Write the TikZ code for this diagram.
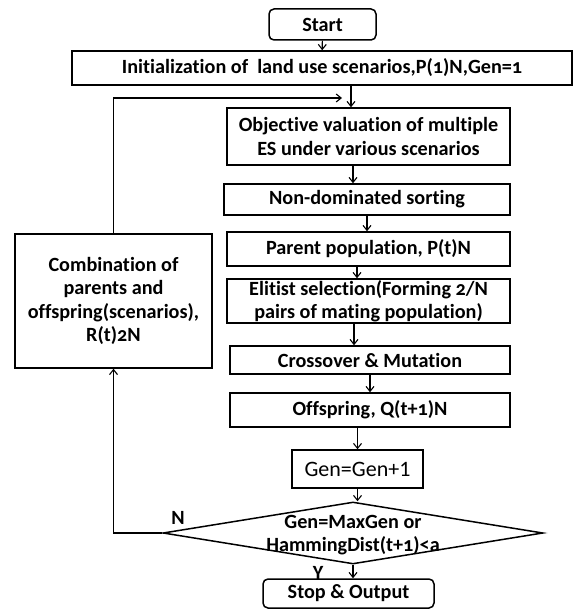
\documentclass[tikz,border=0pt]{standalone}
\usepackage{fontspec}
\setmainfont{Carlito}[Numbers=OldStyle,Ligatures=NoCommon]
\usetikzlibrary{shapes.geometric,arrows.meta}
\tikzstyle{stepNode}=[draw,line width=1.5pt,inner sep=0pt,align=center,font=\fontsize{20.2}{23.5}\selectfont\bfseries]
\tikzstyle{termNode}=[stepNode,rounded corners=5pt]
\tikzstyle{decision}=[draw,line width=1.5pt,diamond,inner sep=0pt,minimum width=380pt,minimum height=62pt]
\tikzstyle{plainText}=[inner sep=0pt,align=center,font=\fontsize{20.2}{23.5}\selectfont\bfseries]
\tikzstyle{transition}=[-{Straight Barb[length=5pt,width=8pt]}, line width=1.1pt]

\begin{document}
\begin{tikzpicture}[x=1pt,y=-1pt]

    \useasboundingbox (0,0) rectangle (573,609);

    \node[termNode,minimum width=107pt,minimum height=31pt] (start) at (322.5, 24.5) {Start};
    \node[stepNode,minimum width=500pt,minimum height=34pt] (init) at (322, 68) {Initialization of~~land use scenarios,P(1)N,Gen=1};
    \node[stepNode,minimum width=283pt,minimum height=57pt] (obj) at (368.5, 136.5) {Objective valuation of multiple\\ES under various scenarios};
    \node[stepNode,minimum width=286pt,minimum height=31pt] (nds) at (367, 199.5) {Non-dominated sorting};
    \node[stepNode,minimum width=283pt,minimum height=34pt] (parent) at (368.5, 249) {Parent population, P(t)N};
    \node[stepNode,minimum width=283pt,minimum height=44pt] (elitist) at (368.5, 301) {Elitist selection(Forming 2/N\\pairs of mating population)};
    \node[stepNode,minimum width=280pt,minimum height=28pt] (cross) at (370, 360) {Crossover \& Mutation};
    \node[stepNode,minimum width=280pt,minimum height=34pt] (offspring) at (370, 410) {Offspring, Q(t+1)N};
    \node[stepNode,minimum width=131pt,minimum height=38pt,font=\fontsize{22}{26}\selectfont\addfontfeatures{Numbers=Lining}] (gen) at (357.5, 469) {Gen=Gen+1};
    \node[decision] (dec) at (353, 533) {};
    \node[plainText] (decText) at (353, 535) {Gen=MaxGen or\\HammingDist(t+1)<a};
    \node[termNode,minimum width=171pt,minimum height=29pt] (stop) at (348.5, 593.5) {Stop \& Output};
    \node[stepNode,minimum width=197pt,minimum height=134pt] (comb) at (113.5, 301) {Combination of\\parents and\\offspring(scenarios),\\R(t)2N};
    \node[plainText] (no) at (178, 518) {N};
    \node[plainText] (yes) at (318, 573) {Y};
    \coordinate (back) at (342, 98);

    \draw[transition] (start) -- (init);
    \draw[transition] ([xshift=-17.5pt]obj.north |- init.south) -- ([xshift=-17.5pt]obj.north);
    \draw[transition] ([xshift=-15.5pt]obj.south) -- ([xshift=-15.5pt]obj.south |- nds.north);
    \draw[transition] (nds.south) -- (nds.south |- parent.north);
    \draw[transition] ([xshift=-11.5pt]parent.south) -- ([xshift=-11.5pt]parent.south |- elitist.north);
    \draw[transition] ([xshift=-14.5pt]elitist.south) -- ([xshift=-14.5pt]elitist.south |- cross.north);
    \draw[transition] (cross.south) -- (cross.south |- offspring.north);
    \draw[transition] (gen.north |- offspring.south) -- (gen.north);
    \draw[transition] (gen.south) -- (gen.south |- dec.north);
    \draw[transition] (dec.south) -- (dec.south |- stop.north);
    \draw[transition] (dec.west) -| (comb.south);
    \draw[transition] (comb.north) |- (back);

\end{tikzpicture}
\end{document}
